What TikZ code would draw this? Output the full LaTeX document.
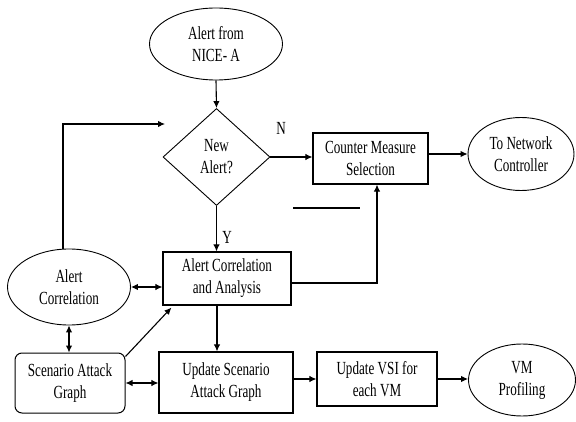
\documentclass[tikz,border=0pt]{standalone}
\usepackage{fontspec}
\setmainfont{Liberation Serif}[FakeStretch=0.71]
\usetikzlibrary{shapes.geometric,arrows.meta}
\begin{document}
\begin{tikzpicture}[x=1pt,y=-1pt,
  every node/.style={font=\fontsize{18.5}{22}\selectfont, align=center, inner sep=0pt},
  ell/.style={ellipse, draw, line width=0.9pt},
  box/.style={rectangle, draw, line width=1.2pt},
  rbox/.style={rectangle, rounded corners=7pt, draw, line width=1pt},
  dia/.style={diamond, draw, line width=0.9pt},
  ln/.style={line width=1.1pt},
  arr/.style={ln, -{Latex[length=7pt,width=6.5pt]}},
  darr/.style={ln, {Latex[length=7pt,width=6.5pt]}-{Latex[length=7pt,width=6.5pt]}},
  lab/.style={font=\fontsize{18.5}{20}\selectfont}]
\useasboundingbox (0,0) rectangle (576,422);

\node[ell, minimum width=133pt, minimum height=72pt] (a) at (216,44) {Alert from\\NICE- A};
\node[dia, minimum width=107pt, minimum height=97pt] (d) at (216.5,157) {New\\Alert?};
\node[box, minimum width=115pt, minimum height=51pt] (cms) at (370.5,158.5) {Counter Measure\\Selection};
\node[ell, minimum width=106pt, minimum height=73pt] (tnc) at (521,154) {To Network\\Controller};
\node[box, minimum width=128pt, minimum height=53pt] (aca) at (227,278.5) {Alert Correlation\\and Analysis};
\node[ell, minimum width=123pt, minimum height=76pt] (ac) at (69,287) {Alert\\Correlation};
\node[rbox, minimum width=110pt, minimum height=60pt] (sag) at (70,383) {Scenario Attack\\Graph};
\node[box, minimum width=134pt, minimum height=61pt] (usag) at (226,382.5) {Update Scenario\\Attack Graph};
\node[box, minimum width=120pt, minimum height=54pt] (vsi) at (377,379) {Update VSI for\\each VM};
\node[ell, minimum width=107pt, minimum height=72pt] (vmp) at (522,380) {VM\\Profiling};

\node[lab] (n) at (281,128) {N};
\node[lab] (y) at (227,237) {Y};

\coordinate (fb) at (63,124);
\coordinate (fbend) at (165,124);
\coordinate (s1) at (293,208);
\coordinate (s2) at (360,208);

\draw[arr] (a.south) -- (d.north);
\draw[arr] (d.east) -- (d.east -| cms.west);
\draw[arr] (cms.east |- tnc.west) -- (tnc.west);
\draw[arr] (d.south) -- (d.south |- aca.north);
\draw[arr] (ac.north -| fb) -- (fb) -- (fbend);
\draw[darr] (ac.east) -- (ac.east -| aca.west);
\draw[darr] (ac.south) -- (ac.south |- sag.north);
\draw[arr] ([yshift=-4pt]sag.north east) -- ([xshift=9pt,yshift=-2pt]aca.south west);
\draw[arr] ([xshift=-10pt]aca.south) -- ([xshift=-10pt]aca.south |- usag.north);
\draw[arr] ([yshift=-4.5pt]aca.east) -| ([xshift=6.5pt]cms.south);
\draw[ln] (s1) -- (s2);
\draw[darr] (sag.east) -- (sag.east -| usag.west);
\draw[arr] (usag.east |- vsi.east) -- (vsi.west);
\draw[arr] (vsi.east) -- (vsi.east -| vmp.west);
\end{tikzpicture}
\end{document}
